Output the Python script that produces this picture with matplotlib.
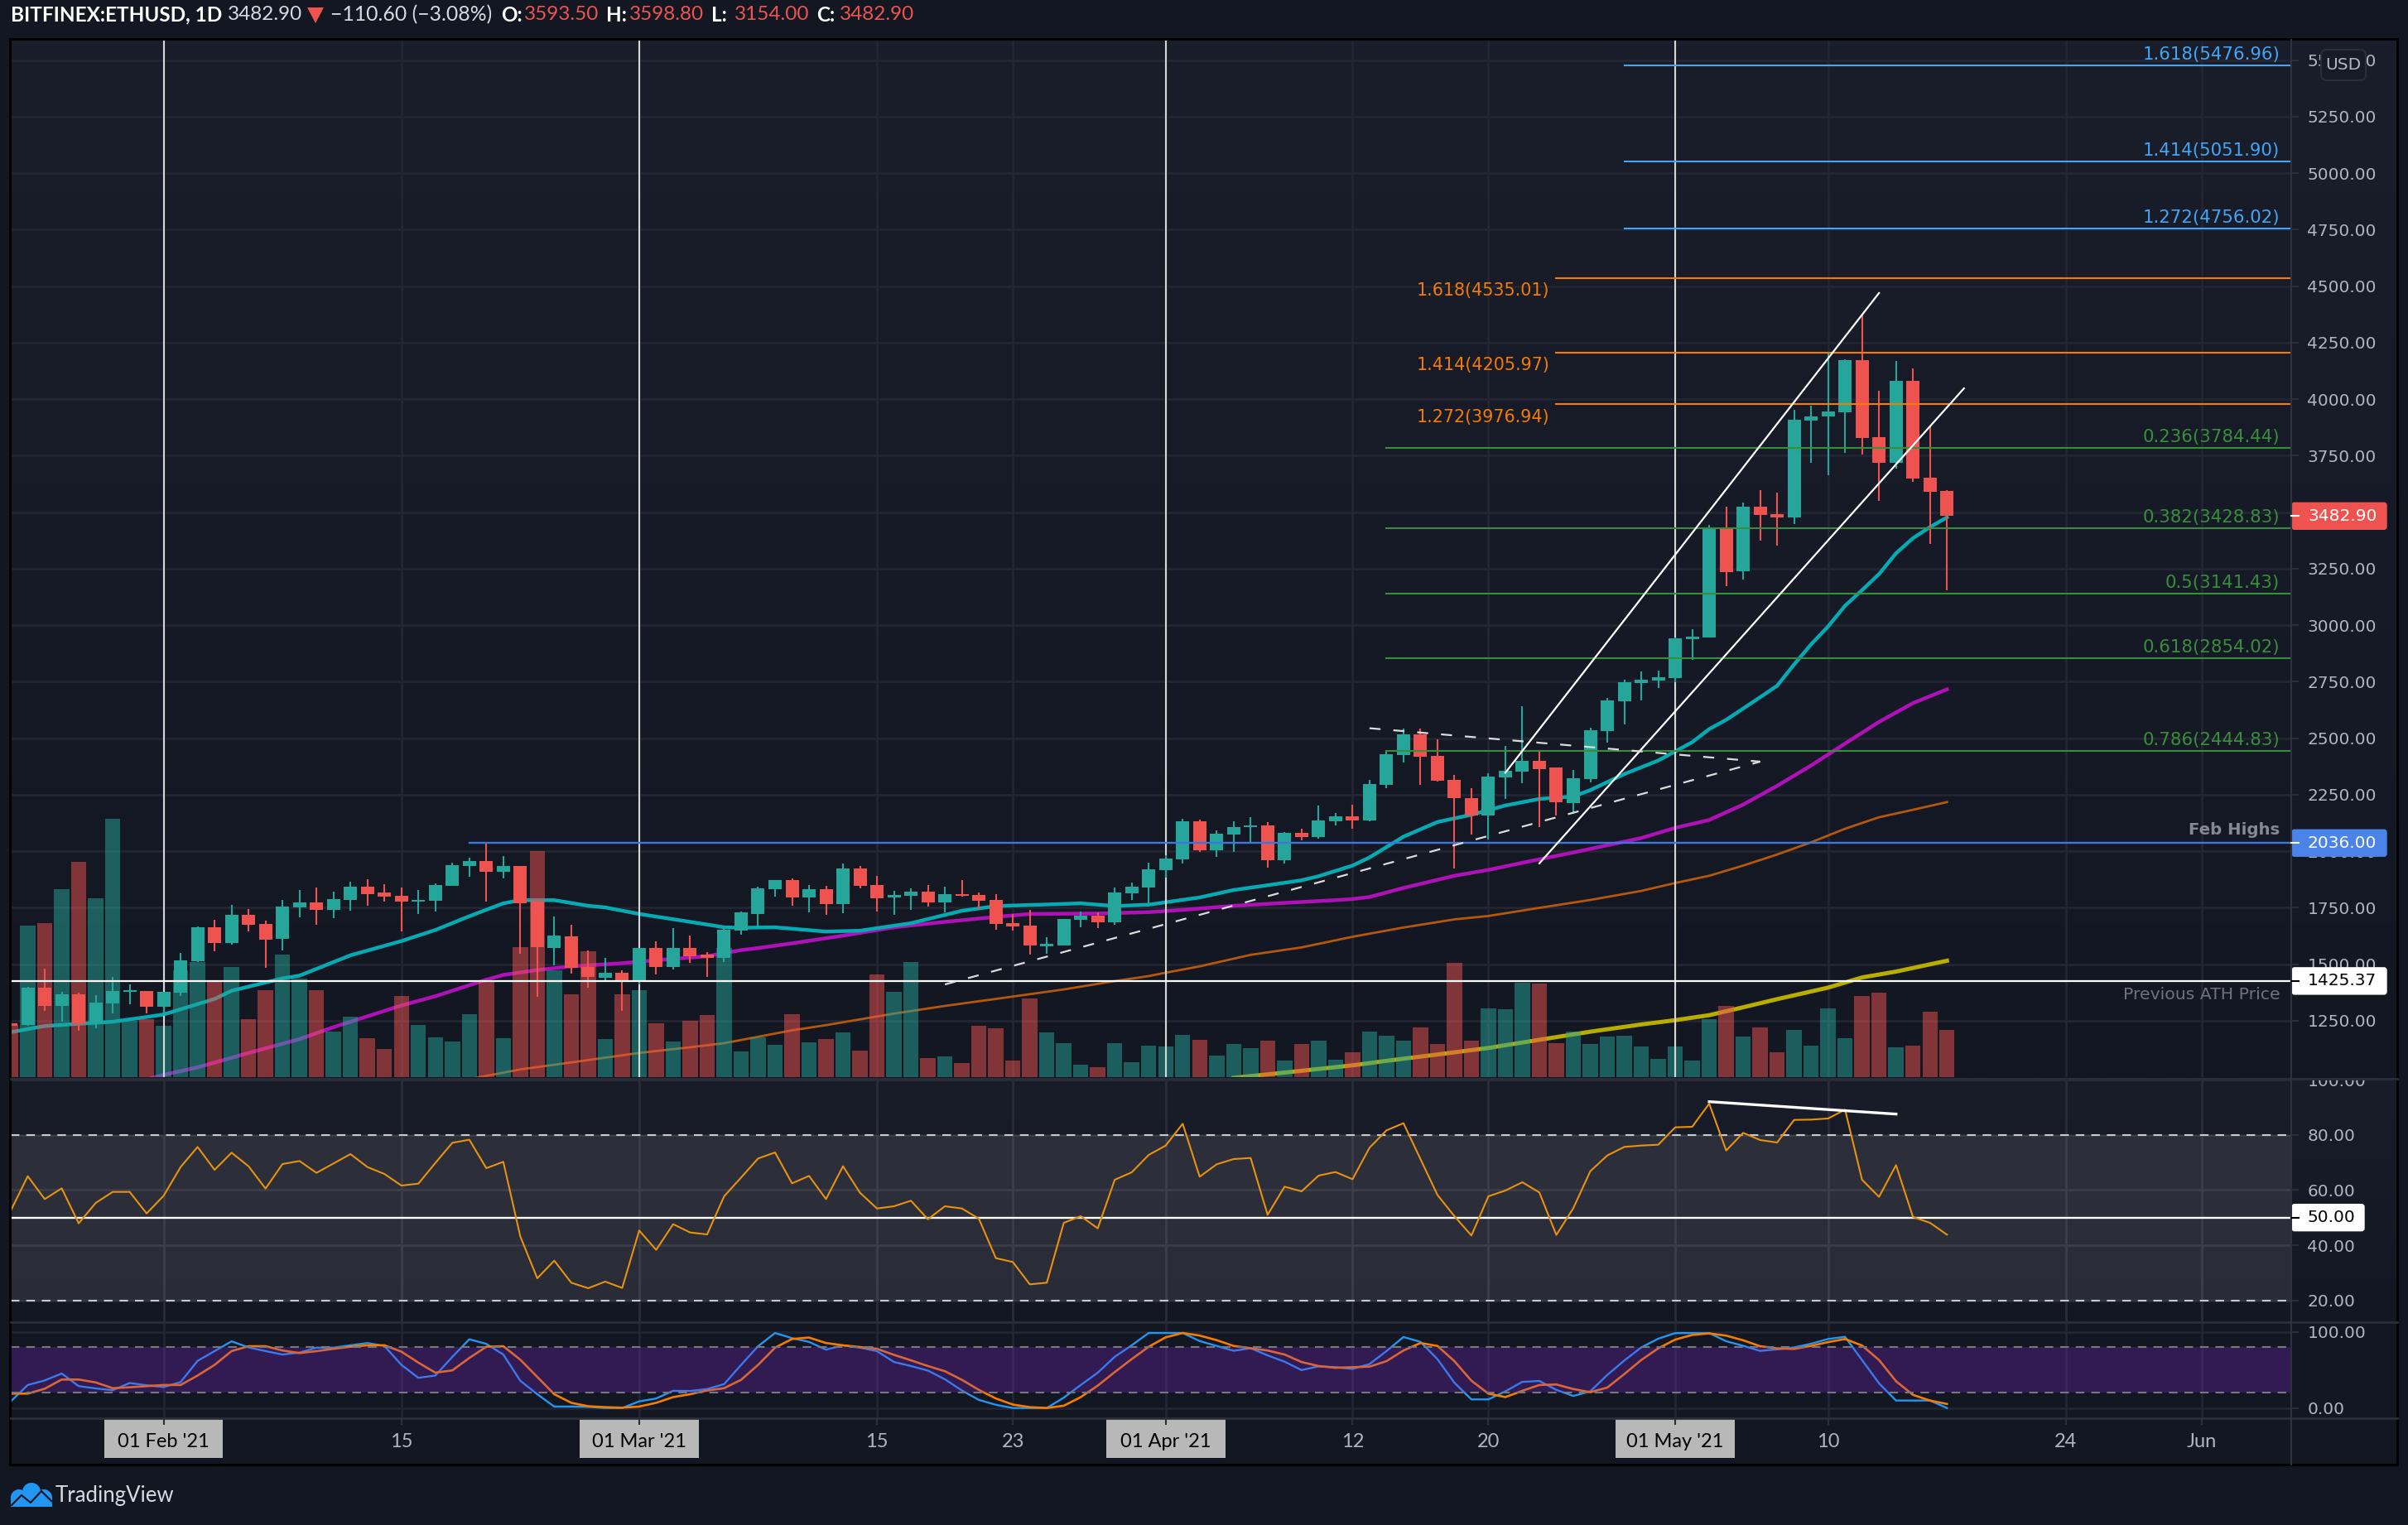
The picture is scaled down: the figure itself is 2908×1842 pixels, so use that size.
import numpy as np
import matplotlib
matplotlib.use("Agg")
import matplotlib.pyplot as plt
from matplotlib.patches import Rectangle, Polygon, Circle, FancyBboxPatch
from matplotlib.transforms import Bbox

# Candles, day number counted from 01 Feb '21
candle_days = np.arange(-9, 106)
opens = [1238, 1232, 1396, 1315, 1366, 1238, 1326, 1376, 1381, 1311,
         1374, 1513, 1663, 1593, 1718, 1678, 1612, 1751, 1773, 1740,
         1784, 1843, 1817, 1802, 1778, 1780, 1846, 1934, 1956, 1909,
         1934, 1777, 1571, 1623, 1487, 1440, 1462, 1425, 1571, 1487,
         1571, 1542, 1527, 1648, 1722, 1832, 1872, 1795, 1832, 1766,
         1923, 1850, 1795, 1802, 1821, 1773, 1810, 1806, 1784, 1681,
         1670, 1579, 1582, 1696, 1714, 1685, 1813, 1839, 1916, 1963,
         2132, 2004, 2073, 2106, 2114, 1960, 2081, 2062, 2132, 2154,
         2135, 2293, 2425, 2517, 2422, 2315, 2234, 2158, 2327, 2352,
         2400, 2370, 2212, 2319, 2531, 2663, 2744, 2754, 2766, 2938,
         2945, 3425, 3238, 3524, 3491, 3477, 3905, 3924, 3942, 4173,
         3832, 3718, 4081, 3653, 3593.5]
closes = [1228, 1395, 1315, 1366, 1238, 1330, 1381, 1383, 1311, 1377,
          1516, 1663, 1593, 1718, 1674, 1608, 1755, 1773, 1740, 1788,
          1843, 1810, 1799, 1777, 1784, 1850, 1938, 1956, 1909, 1934,
          1769, 1575, 1626, 1484, 1443, 1462, 1428, 1571, 1487, 1571,
          1535, 1527, 1652, 1729, 1835, 1872, 1795, 1832, 1766, 1923,
          1846, 1791, 1806, 1821, 1773, 1810, 1802, 1780, 1678, 1667,
          1582, 1590, 1700, 1714, 1685, 1817, 1843, 1919, 1967, 2132,
          2004, 2077, 2106, 2114, 1960, 2081, 2062, 2136, 2154, 2136,
          2297, 2429, 2517, 2418, 2311, 2234, 2157, 2330, 2356, 2400,
          2362, 2216, 2323, 2535, 2667, 2748, 2758, 2770, 2942, 2949,
          3425, 3235, 3524, 3488, 3477, 3909, 3924, 3946, 4173, 3828,
          3718, 4081, 3649, 3590, 3482.9]
highs = [1240, 1399, 1480, 1377, 1374, 1363, 1443, 1410, 1381, 1377,
         1550, 1667, 1696, 1762, 1744, 1692, 1784, 1828, 1839, 1821,
         1865, 1876, 1854, 1839, 1828, 1857, 1949, 1971, 2033, 1978,
         1934, 1785, 1711, 1674, 1561, 1528, 1473, 1571, 1601, 1659,
         1626, 1553, 1670, 1733, 1843, 1872, 1879, 1850, 1846, 1945,
         1934, 1890, 1824, 1835, 1850, 1843, 1872, 1817, 1810, 1722,
         1740, 1619, 1700, 1733, 1729, 1839, 1861, 1949, 1982, 2143,
         2139, 2092, 2132, 2150, 2128, 2084, 2099, 2202, 2169, 2205,
         2315, 2443, 2542, 2542, 2495, 2337, 2279, 2344, 2465, 2641,
         2440, 2370, 2359, 2546, 2677, 2758, 2796, 2798, 2945, 2982,
         3444, 3524, 3543, 3598, 3587, 3953, 3971, 4202, 4176, 4374,
         4037, 4169, 4136, 3880, 3598.8]
lows = [1226, 1226, 1294, 1245, 1205, 1216, 1282, 1322, 1282, 1272,
        1359, 1509, 1557, 1586, 1645, 1484, 1561, 1707, 1674, 1703,
        1736, 1758, 1777, 1645, 1722, 1733, 1846, 1887, 1777, 1879,
        1546, 1355, 1495, 1458, 1396, 1428, 1293, 1410, 1454, 1476,
        1505, 1443, 1509, 1630, 1667, 1799, 1758, 1729, 1718, 1725,
        1835, 1733, 1718, 1740, 1755, 1729, 1799, 1744, 1652, 1648,
        1542, 1546, 1582, 1663, 1659, 1674, 1784, 1769, 1883, 1945,
        1996, 1974, 1996, 2037, 1927, 1945, 2048, 2055, 2114, 2099,
        2132, 2279, 2392, 2293, 2307, 1923, 2073, 2051, 2231, 2301,
        2107, 2158, 2165, 2305, 2479, 2560, 2667, 2722, 2748, 2846,
        2945, 3173, 3202, 3374, 3352, 3447, 3718, 3663, 3762, 3755,
        3550, 3693, 3634, 3359, 3154]
# Volume, arbitrary units
volumes = [63, 183, 186, 227, 260, 216, 312, 68, 70, 62,
           129, 139, 115, 133, 70, 105, 148, 119, 105, 55,
           73, 47, 34, 98, 63, 48, 43, 76, 115, 47,
           157, 273, 129, 100, 152, 46, 100, 105, 65, 43,
           68, 75, 156, 31, 48, 39, 76, 42, 46, 54,
           32, 124, 103, 139, 23, 25, 17, 62, 59, 20,
           95, 54, 41, 15, 12, 41, 18, 38, 37, 51,
           45, 26, 40, 35, 44, 20, 40, 44, 21, 30,
           55, 50, 44, 60, 40, 138, 44, 83, 82, 114,
           113, 41, 55, 40, 49, 50, 37, 22, 37, 20,
           70, 86, 49, 60, 30, 57, 38, 83, 47, 98,
           102, 36, 38, 79, 57]

# Moving averages
ema20_days = [-9, -7, -5, -3, -1, 0, 3, 4, 7, 8, 11, 14, 16, 18, 20, 21, 23, 25, 26, 28, 31, 33, 34,
              36, 39, 41, 44, 47, 49, 52, 54, 56, 58, 61, 63, 65, 67, 68, 70, 71, 73, 75, 77, 79, 81,
              83, 84, 86, 88, 90, 91, 92, 94, 95, 96, 97, 98, 99, 100, 101, 102, 103, 104, 105]
ema20_vals = [1199, 1226, 1236, 1245, 1266, 1277, 1346, 1382, 1437, 1449, 1539, 1602, 1651, 1712, 1769,
              1783, 1783, 1758, 1751, 1722, 1687, 1663, 1661, 1663, 1644, 1648, 1681, 1736, 1757, 1764,
              1769, 1757, 1763, 1795, 1828, 1849, 1871, 1889, 1936, 1972, 2064, 2129, 2161, 2202, 2231,
              2242, 2270, 2341, 2401, 2482, 2540, 2581, 2681, 2732, 2826, 2915, 2994, 3086, 3155, 3226,
              3318, 3385, 3434, 3477]
ema50_days = [-1, 0, 2, 5, 8, 10, 12, 14, 16, 19, 20, 22, 24, 27, 29, 32, 34, 35, 37, 40, 43, 46, 49,
              51, 55, 58, 60, 63, 66, 69, 70, 71, 73, 76, 78, 81, 83, 85, 87, 89, 91, 93, 95, 97, 99,
              101, 103, 105]
ema50_vals = [990, 1010, 1043, 1107, 1168, 1221, 1269, 1317, 1358, 1431, 1452, 1474, 1490, 1504, 1517,
              1535, 1562, 1571, 1592, 1626, 1663, 1687, 1709, 1722, 1724, 1730, 1740, 1758, 1771, 1783,
              1788, 1797, 1837, 1891, 1917, 1964, 1994, 2026, 2058, 2103, 2138, 2206, 2289, 2379, 2476,
              2572, 2655, 2716]
ema100_days = [18, 21, 24, 28, 31, 33, 37, 39, 43, 46, 49, 53, 56, 58, 59, 61, 64, 67, 70, 73, 76, 78,
               81, 84, 87, 89, 91, 93, 95, 97, 99, 101, 103, 105]
ema100_vals = [991, 1034, 1065, 1107, 1132, 1150, 1207, 1230, 1281, 1315, 1346, 1388, 1425, 1447, 1462,
               1490, 1541, 1574, 1621, 1662, 1698, 1713, 1749, 1784, 1824, 1859, 1891, 1936, 1985, 2039,
               2099, 2150, 2183, 2217]
ema200_days = [63, 65, 67, 70, 72, 75, 78, 81, 84, 87, 89, 91, 93, 95, 98, 100, 102, 105]
ema200_vals = [997, 1012, 1028, 1052, 1072, 1100, 1129, 1165, 1201, 1233, 1252, 1274, 1309, 1345, 1396,
               1441, 1467, 1515]

# RSI
rsi_vals = [52.5, 65, 56.7, 60.6, 47.9, 55.3, 59.3, 59.3, 51.5, 57.9,
            68.3, 75.6, 67.3, 73.5, 68.6, 60.5, 69.4, 70.5, 66.2, 69.6,
            73, 68.3, 65.8, 61.6, 62.3, 69.8, 77.1, 78.2, 67.9, 70.2,
            43.2, 28, 34.4, 26.4, 24.4, 26.8, 24.5, 45.3, 38.3, 47.6,
            44.6, 43.9, 57.7, 64.5, 71.4, 73.6, 62.4, 65.1, 56.7, 68.6,
            59, 53.3, 54.1, 56.1, 49.4, 54.1, 53.3, 49.6, 35.3, 33.9,
            25.8, 26.4, 48.1, 50.5, 46.1, 63.7, 66.4, 72.7, 76.1, 84,
            64.8, 69.3, 71.2, 71.6, 51, 61.2, 59.5, 65.2, 66.5, 63.9,
            75.3, 81.6, 84.2, 71.2, 58.2, 50.5, 43.5, 57.7, 59.8, 62.8,
            59.1, 43.7, 53.4, 66.8, 72.5, 75.6, 76.1, 76.4, 82.7, 82.9,
            91.3, 74.3, 80.7, 78.1, 77.2, 85.4, 85.5, 85.9, 89.1, 63.7,
            57.5, 69, 50.2, 48.1, 43.8]

# Stoch RSI
stoch_k = [8.7, 30.2, 36.2, 45.3, 28.7, 25.7, 23.4, 32.8, 29.8, 27.5,
           34, 61.9, 74.7, 87.5, 79.6, 74.7, 70.2, 72.8, 79.2, 79.2,
           82.3, 85.3, 81.5, 56.6, 39.6, 42.6, 67.2, 90.2, 84.2, 70.2,
           35.8, 18.1, 1.9, 1.9, 1.5, 0, 0, 8.7, 12.5, 22.6,
           22.3, 24.9, 31.3, 56.6, 81.1, 98.5, 91.7, 86.8, 76.6, 82.3,
           79.2, 74.7, 60.4, 55.1, 49.1, 37.7, 23, 10.6, 4.2, 0,
           0, 0, 13.6, 30.2, 46.4, 67.2, 82.3, 98.5, 98.5, 98.5,
           87.9, 81.5, 75.1, 78.5, 69.1, 60.8, 49.8, 54.7, 53.6, 51.3,
           57.7, 74.7, 93.2, 86.8, 64.2, 33.2, 11.3, 11.3, 21.9, 34.3,
           35.5, 23.8, 15.8, 21.9, 43.4, 62.3, 79.5, 91, 98.4, 98.4,
           98.4, 87.7, 81.6, 75, 77, 79.5, 84.4, 90.6, 93.4, 63,
           32.4, 9.8, 9.8, 9.8, 0]
stoch_d = [18.9, 18.9, 25.3, 37.4, 37.4, 33.6, 26, 27.2, 28.7, 30.2,
           30.2, 42.6, 56.6, 74.7, 81.1, 81.1, 75.5, 72.1, 74.7, 77.7,
           80.4, 82.3, 82.3, 74, 59.6, 46.4, 49.4, 65.7, 80.4, 81.1,
           63.4, 40.8, 18.1, 6.8, 2.3, 1.1, 0.4, 1.9, 6.8, 14.3,
           18.1, 23, 26, 37, 56.6, 79.2, 90.6, 92.5, 85.3, 82.3,
           80, 77.7, 69.8, 62.6, 55.1, 48.3, 37, 23.8, 12.5, 4.5,
           1.1, 0, 3, 14.3, 29.4, 47.2, 64.2, 80.4, 92.8, 98.5,
           95.1, 89.1, 81.5, 78.5, 75.5, 70.2, 60.4, 55.1, 52.8, 53.6,
           54.3, 61.5, 75.5, 85.3, 81.5, 61.5, 35.8, 18.9, 14.3, 22.6,
           30.2, 30.9, 24.9, 20.8, 26.8, 44.5, 63, 78.3, 89.8, 95.9,
           98, 95, 88.9, 81.1, 78.3, 77.5, 81.6, 86.5, 90.6, 82,
           63, 35.2, 17.2, 9.8, 5.3]

# Axis ticks
price_ticks = [1250, 1500, 1750, 2000, 2250, 2500, 2750, 3000, 3250, 3500, 3750,
               4000, 4250, 4500, 4750, 5000, 5250, 5500]
rsi_ticks = [20, 40, 60, 80, 100]
stoch_ticks = [0, 100]
time_ticks = [0, 14, 28, 42, 50, 59, 70, 78, 89, 98, 112, 120]
time_labels = ["01 Feb '21", "15", "01 Mar '21", "15", "23", "01 Apr '21", "12", "20",
               "01 May '21", "10", "24", "Jun"]
month_starts = [0, 28, 59, 89]

# Fibonacci levels and labels
fib_blue = [5476.96, 5051.90, 4756.02]
fib_blue_labels = ["1.618(5476.96)", "1.414(5051.90)", "1.272(4756.02)"]
fib_orange = [4535.01, 4205.97, 3976.94]
fib_orange_labels = ["1.618(4535.01)", "1.414(4205.97)", "1.272(3976.94)"]
fib_green = [3784.44, 3428.83, 3141.43, 2854.02, 2444.83]
fib_green_labels = ["0.236(3784.44)", "0.382(3428.83)", "0.5(3141.43)", "0.618(2854.02)", "0.786(2444.83)"]
feb_high = 2036.00
old_ath = 1425.37
last_price = 3482.90

# Hand drawn trend lines (day, price)
channel_up = ([79, 101], [2347, 4470])
channel_low = ([81, 106], [1946, 4048])
wedge_top = ([71, 94], [2544, 2396])
wedge_bot = ([46, 94], [1410, 2396])
rsi_div = ([91, 102], [92, 87.5])

BG = "#131722"
GREEN = "#26a69a"
RED = "#ef5350"
GRID = "#232632"
SEP = "#2a2e39"
LABEL = "#b2b5be"
FIB_BLUE = "#42a5f5"
FIB_ORANGE = "#f57c00"
FIB_GREEN = "#388e3c"
W, H = 2908, 1842
LEFT, RIGHT = 13, 2767
XLIM = (-9.0, 125.27)


def pane(top, bottom, zorder=2):
    a = fig.add_axes([LEFT / W, 1 - bottom / H, (RIGHT - LEFT) / W, (bottom - top) / H], zorder=zorder)
    a.patch.set_alpha(0)
    a.set_xlim(*XLIM)
    for s in a.spines.values():
        s.set_visible(False)
    a.tick_params(left=False, labelleft=False, bottom=False, labelbottom=False)
    return a


def px(value, a):
    # figure pixel row of a value on pane a
    return H - a.transData.transform((0, value))[1]


fig = plt.figure(figsize=(W / 100, H / 100), dpi=100, facecolor=BG)

# background gradient of the panes
bg = fig.add_axes([0, 0, 1, 1], zorder=0)
bg.set_xlim(0, W)
bg.set_ylim(H, 0)
bg.axis("off")
for top, bottom, c0, c1 in [(48, 1301, "#1a1e2b", "#131722"), (1303, 1597, "#191d29", "#131722")]:
    rgb0 = np.array(matplotlib.colors.to_rgb(c0))
    rgb1 = np.array(matplotlib.colors.to_rgb(c1))
    grad = np.linspace(0, 1, 64)[:, None, None] * (rgb1 - rgb0) + rgb0
    bg.imshow(grad, extent=(LEFT, 2895, bottom, top), aspect="auto", interpolation="bilinear")
bg.set_xlim(0, W)
bg.set_ylim(H, 0)

# layers of the price pane: averages, then volume, then candles
ax_ma = pane(48, 1301, zorder=1)
ax_vol = pane(48, 1301, zorder=2)
ax = pane(48, 1301, zorder=3)
for a in (ax_ma, ax):
    a.set_ylim(1000, 5590.7)
ax_vol.set_ylim(0, 1253)

ax_ma.set_yticks(price_ticks)
ax_ma.set_xticks(time_ticks)
ax_ma.grid(True, color=GRID, lw=2)
ax_ma.set_axisbelow(True)
ax_ma.plot(ema100_days, ema100_vals, color="#b5570e", lw=2)
ax_ma.plot(ema200_days, ema200_vals, color="#b8ad00", lw=3.6)
ax_ma.plot(ema50_days, ema50_vals, color="#ae12b6", lw=3.2)
ax_ma.plot(ema20_days, ema20_vals, color="#05aab3", lw=3.2)

bar_cols = [GREEN if c >= o else RED for o, c in zip(opens, closes)]
ax_vol.bar(candle_days, volumes, width=0.9, color=bar_cols, alpha=0.5, lw=0)

# month lines sit under the candles
for d in month_starts:
    ax.axvline(d, color="#d6d6d6", lw=1.5, zorder=1)
body_low = np.minimum(opens, closes)
body_high = np.maximum(opens, closes)
ax.vlines(candle_days, lows, highs, colors=bar_cols, lw=1.5, zorder=2)
ax.bar(candle_days, body_high - body_low, bottom=body_low, width=0.78, color=bar_cols, lw=0, zorder=3)

# price axis
ax.yaxis.tick_right()
ax.set_yticks(price_ticks)
ax.set_yticklabels(["%.2f" % p for p in price_ticks], fontsize=14.5, color=LABEL)
ax.tick_params(axis="y", right=True, labelright=True, length=6.5, width=1.5, color=SEP, pad=7.5)

# fib levels
for lev, lab in zip(fib_blue, fib_blue_labels):
    ax.plot([86, XLIM[1]], [lev, lev], color=FIB_BLUE, lw=1.5, zorder=5)
    ax.annotate(lab, xy=(124.6, lev), xytext=(0, 2), textcoords="offset points", ha="right", va="bottom",
                color=FIB_BLUE, fontsize=15.3, zorder=6)
for lev, lab in zip(fib_orange, fib_orange_labels):
    ax.plot([82, XLIM[1]], [lev, lev], color=FIB_ORANGE, lw=1.5, zorder=5)
    ax.annotate(lab, xy=(81.6, lev), xytext=(0, -11), textcoords="offset points", ha="right", va="center",
                color=FIB_ORANGE, fontsize=14.9, zorder=6)
for lev, lab in zip(fib_green, fib_green_labels):
    ax.plot([72, XLIM[1]], [lev, lev], color=FIB_GREEN, lw=1.5, zorder=5)
    ax.annotate(lab, xy=(124.6, lev), xytext=(0, 2), textcoords="offset points", ha="right", va="bottom",
                color=FIB_GREEN, fontsize=15.3, zorder=6)

ax.plot([18, XLIM[1]], [feb_high, feb_high], color="#3d77de", lw=1.7, zorder=5)
ax.axhline(old_ath, color="white", lw=1.6, zorder=5)
ax.annotate("Feb Highs", xy=(124.6, feb_high), xytext=(0, 11), textcoords="offset points", ha="right",
            va="center", color="#868993", fontsize=14.2, fontweight="bold", zorder=6)
ax.annotate("Previous ATH Price", xy=(124.6, old_ath), xytext=(0, -12), textcoords="offset points", ha="right",
            va="center", color="#6f727c", fontsize=14.7, zorder=6)

for line in (channel_up, channel_low):
    ax.plot(line[0], line[1], color="white", lw=1.6, zorder=7)
for line in (wedge_top, wedge_bot):
    ax.plot(line[0], line[1], color="#dcdcdc", lw=1.6, dashes=(6, 7), zorder=7)

# RSI pane
ax_rsi = pane(1303, 1597)
ax_rsi.set_ylim(12.1, 100.3)
ax_rsi.axhspan(20, 80, facecolor=(170 / 255, 161 / 255, 173 / 255), alpha=0.15, lw=0, zorder=1)
ax_rsi.yaxis.tick_right()
ax_rsi.set_yticks(rsi_ticks)
ax_rsi.set_yticklabels(["%.2f" % t for t in rsi_ticks], fontsize=14.5, color=LABEL)
ax_rsi.tick_params(axis="y", right=True, labelright=True, length=6.5, width=1.5, color=SEP, pad=7.5)
ax_rsi.set_xticks(time_ticks)
ax_rsi.grid(True, color="#2a2d39", lw=2)
ax_rsi.set_axisbelow(True)
for lev in (20, 80):
    ax_rsi.axhline(lev, color="#c8c8cc", lw=1.5, dashes=(5, 4), zorder=2)
ax_rsi.axhline(50, color="white", lw=1.7, zorder=3)
ax_rsi.plot(candle_days, rsi_vals, color="#e8920f", lw=1.5, zorder=4)
ax_rsi.plot(rsi_div[0], rsi_div[1], color="white", lw=2.4, zorder=5)
# only the lower half of the 100.00 label is visible
top_label = ax_rsi.get_yticklabels()[-1]
top_label.set_clip_box(Bbox([[RIGHT, 0], [W, H - 1304]]))
top_label.set_clip_on(True)

# Stoch RSI pane
ax_st = pane(1597, 1713)
ax_st.set_ylim(-13.4, 112.7)
ax_st.yaxis.tick_right()
ax_st.set_yticks(stoch_ticks)
ax_st.set_yticklabels(["%.2f" % t for t in stoch_ticks], fontsize=14.5, color=LABEL)
ax_st.tick_params(axis="y", right=True, labelright=True, length=6.5, width=1.5, color=SEP, pad=7.5)
ax_st.grid(True, color=GRID, lw=2)
ax_st.set_axisbelow(True)
ax_st.plot(candle_days, stoch_k, color="#2196f3", lw=1.7, zorder=2)
ax_st.plot(candle_days, stoch_d, color="#f57c00", lw=1.9, zorder=2.1)
ax_st.axhspan(20, 80, facecolor=(139 / 255, 39 / 255, 226 / 255), alpha=0.25, lw=0, zorder=3)
for lev in (20, 80):
    ax_st.axhline(lev, color="#77777f", lw=1.5, dashes=(5, 4), zorder=4)

# time axis
ax_st.set_xticks(time_ticks)
ax_st.set_xticklabels(time_labels, fontname="Lato", fontsize=17, color=LABEL)
ax_st.tick_params(axis="x", bottom=True, labelbottom=True, length=6, width=1.5, color=SEP, pad=7)
for tick, d in zip(ax_st.xaxis.get_major_ticks(), time_ticks):
    if d in month_starts:
        tick.tick1line.set_color("black")
        tick.label1.set_color("black")
        ax_st.add_patch(Rectangle((d - 3.5, -0.414), 7.0, 0.414, transform=ax_st.get_xaxis_transform(),
                                  facecolor="#b8b8b8", edgecolor="none", clip_on=False, zorder=0.2))

# overlay in figure pixels: separators, frame, header, price tags, logo
ov = fig.add_axes([0, 0, 1, 1], zorder=10)
ov.set_xlim(0, W)
ov.set_ylim(H, 0)
ov.axis("off")
ov.patch.set_alpha(0)

for y in (1303, 1597, 1713):
    ov.plot([LEFT, 2895], [y, y], color=SEP, lw=2)
ov.plot([RIGHT, RIGHT], [48, 1769], color="#2e323e", lw=1.5)
ov.add_patch(Rectangle((12, 47), 2883, 1722, fill=False, edgecolor="black", lw=2.2))


def price_tag(a, value, text, face, text_col, right):
    y = px(value, a)
    ov.add_patch(FancyBboxPatch((RIGHT + 1, y - 16), right - RIGHT - 3, 32, boxstyle="round,pad=0,rounding_size=3",
                                facecolor=face, edgecolor=face, lw=1))
    ov.plot([RIGHT, RIGHT + 9], [y, y], color=text_col, lw=1.5)
    ov.text(2787, y, text, color=text_col, fontsize=14.5, va="center", ha="left")


price_tag(ax, last_price, "%.2f" % last_price, RED, "white", 2884)
price_tag(ax, feb_high, "%.2f" % feb_high, "#4a84e8", "white", 2884)
price_tag(ax, old_ath, "%.2f" % old_ath, "white", "black", 2884)
price_tag(ax_rsi, 50, "50.00", "white", "black", 2857)

ov.add_patch(FancyBboxPatch((2803, 60), 54, 37, boxstyle="round,pad=0,rounding_size=7",
                            facecolor="#171b27", edgecolor=SEP, lw=1.5))
ov.text(2830, 78, "USD", color=LABEL, fontsize=14.5, ha="center", va="center")

# header
hy = 18
ov.text(13, hy, "BITFINEX:ETHUSD, 1D", color="white", fontname="Lato", fontweight="bold", fontsize=17.5, va="center")
ov.text(275, hy, "3482.90", color="#d8dae0", fontname="Lato", fontsize=17.5, va="center")
ov.add_patch(Polygon([(371, 9), (391, 9), (381, 28)], facecolor=RED, edgecolor="none"))
ov.text(399, hy, "\u2212110.60 (\u22123.08%)", color="#d8dae0", fontname="Lato", fontsize=17.8, va="center")
for x_lab, lab, val in [(605, "O:", "3593.50"), (732, "H:", "3598.80"), (859, "L:", "3154.00"), (986, "C:", "3482.90")]:
    ov.text(x_lab, hy, lab, color="white", fontname="Lato", fontweight="bold", fontsize=17.5, va="center")
    ov.text(x_lab + 28, hy, val, color="#ef5350", fontname="Lato", fontsize=17.5, va="center")

# logo
LOGO = "#2196f3"
for cx, cy, r in [(23, 1809, 10), (38, 1802, 11), (53, 1809, 10)]:
    ov.add_patch(Circle((cx, cy), r, facecolor=LOGO, edgecolor="none"))
ov.add_patch(Rectangle((13, 1809), 50, 11, facecolor=LOGO, edgecolor="none"))
ov.plot([14, 26, 37, 50, 62], [1818, 1806, 1815, 1801, 1813], color=BG, lw=1.6)
ov.text(67, 1806, "TradingView", color="#d8dae0", fontname="Lato", fontsize=18.5, va="center")

fig.savefig("out.png", dpi=100, facecolor=BG)
